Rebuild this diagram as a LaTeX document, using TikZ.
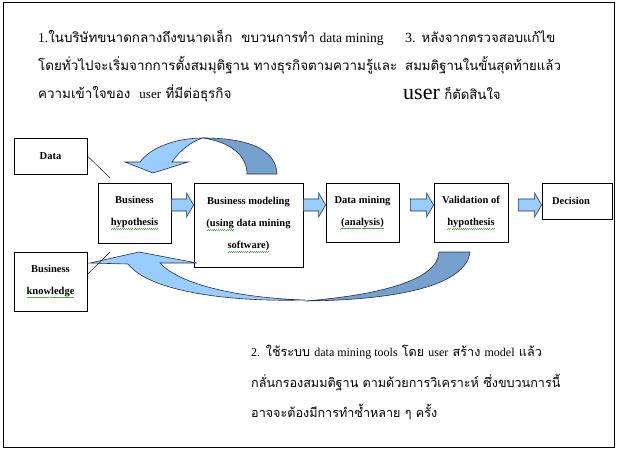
\documentclass[tikz,border=0pt]{standalone}
\usepackage{fontspec}
\setmainfont{Liberation Serif}
\newfontfamily\thaifont[Script=Thai]{Loma}
\usetikzlibrary{calc}

\definecolor{arrowlight}{RGB}{153,204,255}
\definecolor{arrowdark}{RGB}{118,160,206}
\definecolor{arrowline}{RGB}{35,50,85}
\definecolor{spellgreen}{RGB}{70,175,70}

% green wave of the spell checker
\newsavebox\spellbox
\newcommand\spell[1]{\leavevmode\sbox\spellbox{#1}\rlap{\color{spellgreen}\hbox to \wd\spellbox{\xleaders\hbox to 2pt{\rule[-3.8pt]{1pt}{0.6pt}\rule[-3.2pt]{1pt}{0.6pt}}\hfil}}\usebox\spellbox}
% latin words inside the thai notes
\newcommand\lat[2]{{\rmfamily\fontsize{#1}{#1}\selectfont #2}}

\begin{document}
\begin{tikzpicture}[
		x=1pt, y=-1pt,
		box/.style={draw,line width=0.8pt,fill=white,inner sep=0pt,align=center,
			font=\bfseries\fontsize{10.5}{22}\selectfont},
		note/.style={anchor=base west,inner sep=0pt,font=\thaifont\fontsize{13.2}{13.2}\selectfont},
		topnote/.style={note,font=\thaifont\fontsize{13.4}{13.4}\selectfont},
		lownote/.style={note,font=\thaifont\fontsize{12.6}{12.6}\selectfont},
		thinline/.style={line width=0.4pt},
		blockarrow/.style={draw=arrowline,fill=arrowlight,line width=0.6pt,
			to path={let \p1=(\tikztostart), \p2=(\tikztotarget) in
				(\x1,\y1+6pt) -- (\x2-7pt,\y1+6pt) -- (\x2-7pt,\y1+12pt) -- (\x2,\y1)
				-- (\x2-7pt,\y1-12pt) -- (\x2-7pt,\y1-6pt) -- (\x1,\y1-6pt) -- cycle}}
	]

		\useasboundingbox[fill=white] (0,0) rectangle (618,450);
		\draw[line width=1pt] (3,2) rectangle (614,447);

		% Notes
		\node[topnote] (note1a) at (38,42) {\lat{13.5}{1.}ในบริษัทขนาดกลางถึงขนาดเล็ก\ \ ขบวนการทำ \lat{13.5}{data mining}};
		\node[topnote] (note1b) at (38,70) {โดยทั่วไปจะเริ่มจากการตั้งสมมุติฐาน ทางธุรกิจตามความรู้และ};
		\node[topnote] (note1c) at (38,98) {ความเข้าใจของ\ \ \lat{13}{user} ที่มีต่อธุรกิจ};
		\node[note] (note3a) at (405,42) {\lat{14}{3.} หลังจากตรวจสอบแก้ไข};
		\node[note] (note3b) at (405,70) {สมมติฐานในขั้นสุดท้ายแล้ว};
		\node[note] (note3c) at (403,99) {\lat{22}{user} ก็ตัดสินใจ};
		\node[lownote] (note2a) at (251,356) {\lat{12}{2.} ใช้ระบบ \lat{12}{data mining tools} โดย \lat{12}{user} สร้าง \lat{12}{model} แล้ว};
		\node[lownote] (note2b) at (251,387) {กลั่นกรองสมมติฐาน ตามด้วยการวิเคราะห์ ซึ่งขบวนการนี้};
		\node[lownote] (note2c) at (251,417) {อาจจะต้องมีการทำซ้ำหลาย ๆ ครั้ง};

		% Boxes
		\node[box,minimum width=73pt,minimum height=36pt] (data) at (50.5,156) {Data};
		\node[box,minimum width=73pt,minimum height=59pt] (bk) at (50.5,281.5) {Business\\\spell{knowledge}};
		\node[box,minimum width=73pt,minimum height=60pt] (hyp) at (134.5,213) {Business\\\spell{hypothesis}};
		\node[box,minimum width=109pt,minimum height=84pt] (model) at (248.5,225) {Business modeling\\\spell{(using} data mining\\\spell{software)}};
		\node[box,minimum width=73pt,minimum height=59pt] (dm) at (362.5,212.5) {Data mining\\\spell{(analysis)}};
		\node[box,minimum width=74pt,minimum height=59pt] (val) at (471,212.5) {Validation of\\\spell{hypothesis}};
		\node[box,minimum width=70pt,minimum height=36pt,text width=50pt,inner xsep=10pt,align=left] (dec) at (577,201) {Decision};

		% Straight arrows
		\coordinate (rowy) at (0,205);
		\draw[blockarrow] (hyp.east |- rowy) to (model.west |- rowy);
		\draw[blockarrow] (model.east |- rowy) to (dm.west |- rowy);
		\draw[blockarrow] ($(dm.east |- rowy)+(11,0)$) to (val.west |- rowy);
		\draw[blockarrow] ($(val.east |- rowy)+(10,0)$) to (dec.west |- rowy);

		% Curved arrow back to the hypothesis
		\draw[draw=arrowline,fill=arrowdark,line width=0.6pt]
			(247,174) -- (277,174) .. controls (276,150) and (250,138) .. (203,138)
			.. controls (230,142) and (247,155) .. (247,174) -- cycle;
		\draw[draw=arrowline,fill=arrowlight,line width=0.6pt]
			(153,173) -- (125,162) -- (140,162) .. controls (150,148) and (175,138) .. (203,138)
			.. controls (192,141) and (180,150) .. (172,162) -- (188,162) -- cycle;

		% Curved arrow from the validation
		\draw[draw=arrowline,fill=arrowdark,line width=0.6pt]
			(439,252) -- (470,252) .. controls (466,285) and (400,300) .. (305,301)
			.. controls (380,295) and (438,280) .. (439,252) -- cycle;
		\draw[draw=arrowline,fill=arrowlight,line width=0.6pt]
			(90,263) -- (139,252) -- (197,263) -- (160,263) .. controls (180,285) and (240,298) .. (305,300)
			.. controls (230,302) and (150,292) .. (128,264) -- cycle;

		% Lines to the side boxes
		\coordinate (dataend) at (110,178);
		\coordinate (bkend) at (110,252);
		\draw[thinline] (data.east) -- (dataend);
		\draw[thinline] ([yshift=7pt]bk.east) -- (bkend);
	\end{tikzpicture}
\end{document}
